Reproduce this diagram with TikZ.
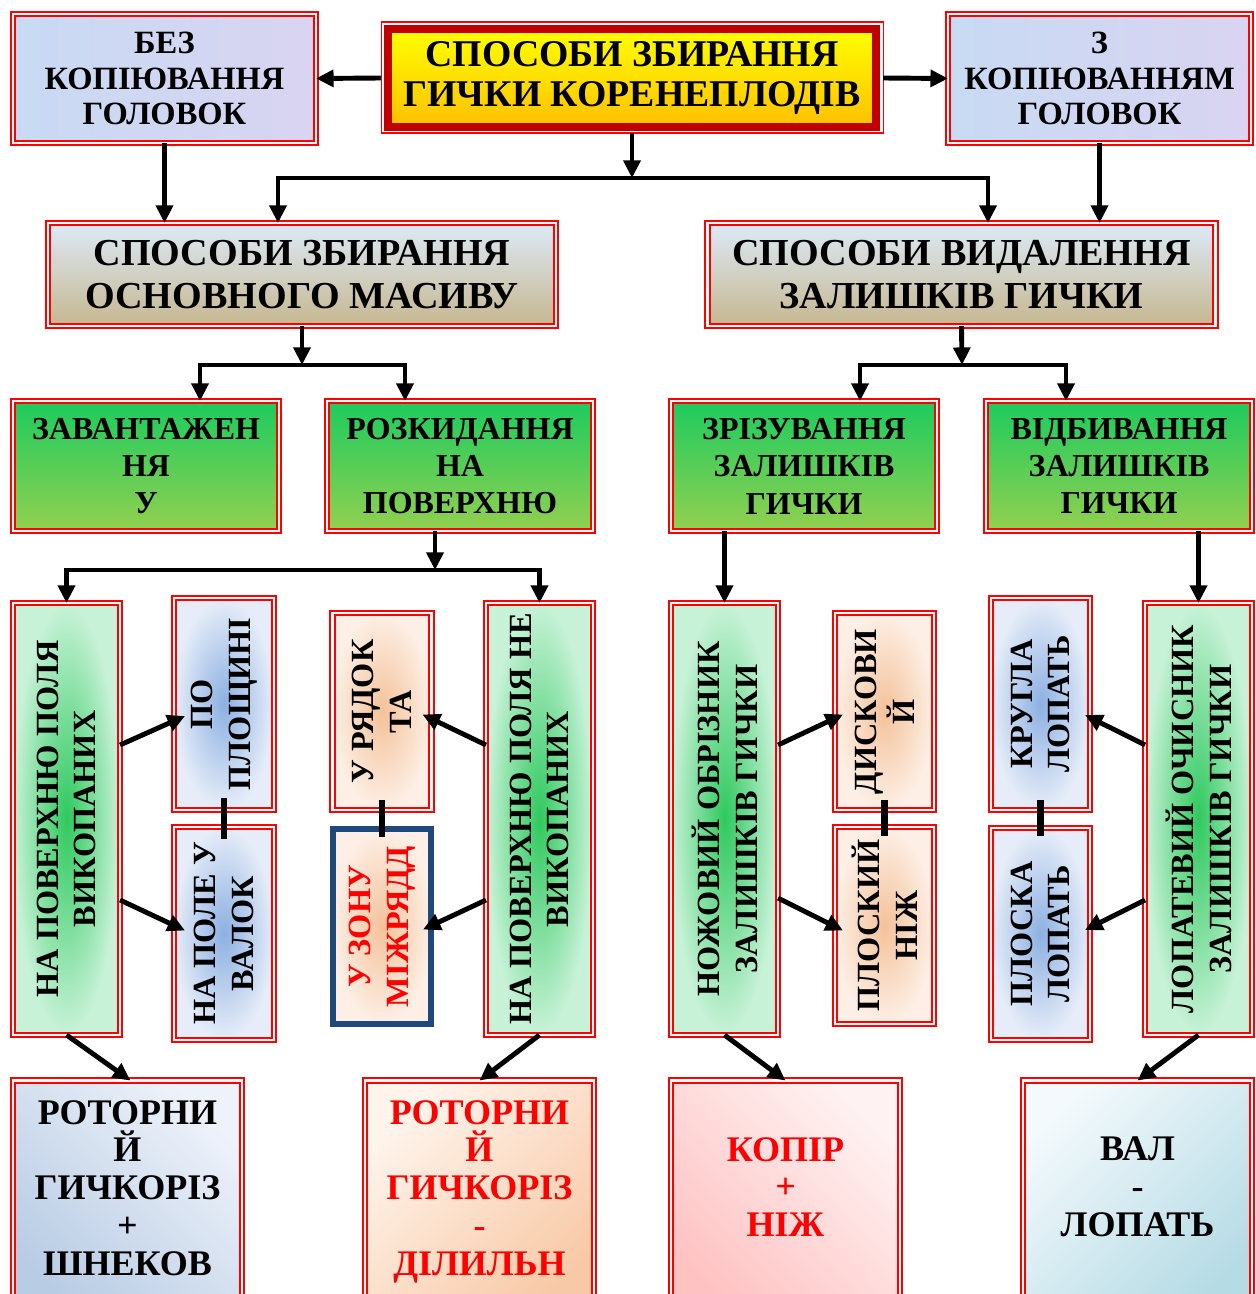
\documentclass[tikz,border=0pt]{standalone}
\usepackage{fontspec}
\setmainfont{Liberation Serif}
\usetikzlibrary{arrows.meta,calc}

\definecolor{darkred}{HTML}{C00000}
\definecolor{amber}{HTML}{FFC000}
\definecolor{lilac1}{HTML}{C8DAF3}
\definecolor{lilac2}{HTML}{D9D4F1}
\definecolor{sky}{HTML}{DCEAF7}
\definecolor{khaki}{HTML}{C6B68F}
\definecolor{grtop}{HTML}{1CCB5E}
\definecolor{grbot}{HTML}{93D050}
\definecolor{mint}{HTML}{C8F2D8}
\definecolor{glow}{HTML}{2FC95E}
\definecolor{bluepale}{HTML}{E6EDF8}
\definecolor{blueglow}{HTML}{8CB0E2}
\definecolor{peachpale}{HTML}{FDEFE5}
\definecolor{peachglow}{HTML}{F4C29A}
\definecolor{zonablue}{HTML}{1F497D}
\definecolor{rotblue}{HTML}{B8CCE4}
\definecolor{rotpale}{HTML}{EEF2FA}
\definecolor{rotpeach}{HTML}{F8C9A6}
\definecolor{rotcream}{HTML}{FFF4EC}
\definecolor{koppink}{HTML}{FFC2C2}
\definecolor{koppale}{HTML}{FFF2F2}
\definecolor{valcyan}{HTML}{B5DBE5}
\definecolor{valpale}{HTML}{F3F9FC}

\tikzset{
  box/.style={draw=red, double=white, line width=1.1pt, double distance=1.3pt,
    inner sep=0pt, outer sep=0pt, align=center, font=\bfseries},
  topbox/.style={box, left color=lilac1, right color=lilac2,
    minimum width=6.06cm, minimum height=2.58cm,
    font=\fontsize{18.5}{20.4}\selectfont\bfseries},
  midbox/.style={box, top color=sky, bottom color=khaki,
    minimum width=10.16cm, minimum height=2.06cm,
    font=\fontsize{21.7}{24.4}\selectfont\bfseries},
  greenbox/.style={box, top color=grtop, bottom color=grbot,
    minimum width=5.32cm, minimum height=2.6cm,
    font=\fontsize{18.2}{21.3}\selectfont\bfseries},
  tallbox/.style={box, inner color=glow, outer color=mint,
    minimum width=2.14cm, minimum height=8.64cm},
  bluebox/.style={box, inner color=blueglow, outer color=bluepale, minimum width=2cm},
  peachbox/.style={box, inner color=peachglow, outer color=peachpale, minimum width=1.98cm},
  lowbox/.style={box, minimum width=4.58cm, minimum height=4.78cm},
  vtext/.style={rotate=90, align=center, inner sep=0pt,
    font=\fontsize{18.4}{21.5}\selectfont\bfseries},
  btext/.style={align=center, inner sep=0pt,
    font=\fontsize{20.5}{21.5}\selectfont\bfseries},
  arr/.style={line width=2.8pt, -{Triangle[length=10pt,width=9.5pt]}},
  link/.style={line width=2.8pt, line cap=rect},
}

\begin{document}
\begin{tikzpicture}[x=0.02cm,y=-0.02cm]
\useasboundingbox (0,0) rectangle (1255,1294);
\clip (0,0) rectangle (1255,1294);

% top row
\node[topbox] (bez) at (164.5,78.5) {БЕЗ\\КОПІЮВАННЯ\\ГОЛОВОК};
\node[draw=darkred, line width=4.5pt, top color=yellow, bottom color=amber,
  minimum width=9.77cm, minimum height=1.96cm, inner sep=0pt, outer sep=0pt,
  align=center, font=\fontsize{21.5}{23.2}\selectfont\bfseries]
  (title) at (632,78) {СПОСОБИ ЗБИРАННЯ\\ГИЧКИ КОРЕНЕПЛОДІВ};
\draw[red, line width=0.6pt] ($(title.north west)+(-6.5,-7)$) rectangle ($(title.south east)+(7,6)$);
\node[topbox] (zk) at (1099.5,78.5) {З\\КОПІЮВАННЯМ\\ГОЛОВОК};

\node[midbox] (zb) at (302,274.5) {СПОСОБИ ЗБИРАННЯ\\ОСНОВНОГО МАСИВУ};
\node[midbox] (vz) at (961.5,274.5) {СПОСОБИ ВИДАЛЕННЯ\\ЗАЛИШКІВ ГИЧКИ};

\node[greenbox] (zav) at (146,466) {ЗАВАНТАЖЕН\\НЯ\\У};
\node[greenbox] (roz) at (460,466) {РОЗКИДАННЯ\\НА\\ПОВЕРХНЮ};
\node[greenbox] (zriz) at (804,466) {ЗРІЗУВАННЯ\\ЗАЛИШКІВ\\ГИЧКИ};
\node[greenbox] (vidb) at (1119,466) {ВІДБИВАННЯ\\ЗАЛИШКІВ\\ГИЧКИ};

% vertical boxes
\node[tallbox] (vk) at (66.5,819) {};
\node[vtext] (vkt) at (vk) {НА ПОВЕРХНЮ ПОЛЯ\\ВИКОПАНИХ};
\node[bluebox, minimum height=4.24cm] (pl) at (224,704) {};
\node[vtext] (plt) at (pl) {ПО\\ПЛОЩИНІ};
\node[bluebox, minimum height=4.26cm] (val) at (224,933.5) {};
\node[vtext] (valt) at (val) {НА ПОЛЕ У\\ВАЛОК};
\node[peachbox, minimum height=3.94cm] (ryad) at (382,711.5) {};
\node[vtext] (ryadt) at (ryad) {У РЯДОК\\ТА};
\node[draw=zonablue, line width=3.4pt, inner color=peachglow, outer color=peachpale,
  minimum width=1.96cm, minimum height=3.9cm, inner sep=0pt, outer sep=0pt] (zona) at (382,926.5) {};
\node[vtext, text=red] (zonat) at (zona) {У ЗОНУ\\МІЖРЯДД};
\node[tallbox] (nevk) at (539.5,819) {};
\node[vtext] (nevkt) at (nevk) {НА ПОВЕРХНЮ ПОЛЯ НЕ\\ВИКОПАНИХ};

\node[tallbox] (nozh) at (724.5,819) {};
\node[vtext] (nozht) at (nozh) {НОЖОВИЙ ОБРІЗНИК\\ЗАЛИШКІВ ГИЧКИ};
\node[peachbox, minimum height=3.94cm] (disk) at (884.5,711.5) {};
\node[vtext] (diskt) at (disk) {ДИСКОВИ\\Й};
\node[peachbox, minimum height=3.94cm] (plnizh) at (884.5,925.5) {};
\node[vtext] (plnizht) at (plnizh) {ПЛОСКИЙ\\НІЖ};
\node[bluebox, minimum width=1.98cm, minimum height=4.24cm] (krug) at (1040.5,704) {};
\node[vtext] (krugt) at (krug) {КРУГЛА\\ЛОПАТЬ};
\node[bluebox, minimum width=1.98cm, minimum height=4.24cm] (plop) at (1040.5,934) {};
\node[vtext] (plopt) at (plop) {ПЛОСКА\\ЛОПАТЬ};
\node[tallbox] (lop) at (1198.5,819) {};
\node[vtext] (lopt) at (lop) {ЛОПАТЕВИЙ ОЧИСНИК\\ЗАЛИШКІВ ГИЧКИ};

% bottom row
\node[lowbox, bottom color=rotblue, top color=rotpale, shading angle=-45] (rot1) at (127.5,1200) {};
\node[btext, anchor=north] (rot1t) at (127.5,1100) {РОТОРНИ\\Й\\ГИЧКОРІЗ\\+\\ШНЕКОВ};
\node[lowbox, bottom color=rotpeach, top color=rotcream, shading angle=45] (rot2) at (479.5,1200) {};
\node[btext, anchor=north, text=red] (rot2t) at (479.5,1100) {РОТОРНИ\\Й\\ГИЧКОРІЗ\\-\\ДІЛИЛЬН};
\node[lowbox, bottom color=koppink, top color=koppale, shading angle=-45] (kop) at (785.5,1200) {};
\node[btext, text=red] (kopt) at (785.5,1187) {КОПІР\\+\\НІЖ};
\node[lowbox, bottom color=valcyan, top color=valpale, shading angle=45] (val2) at (1137.5,1200) {};
\node[btext] (val2t) at (1137.5,1187) {ВАЛ\\-\\ЛОПАТЬ};

% connectors
\coordinate (j1) at (632,178);
\coordinate (j1l) at (278,178);
\coordinate (j1r) at (988,178);
\draw[arr] ($(title.west)+(-7,0)$) -- (bez.east);
\draw[arr] ($(title.east)+(7,0)$) -- (zk.west);
\draw[arr] ($(title.south)+(0,6)$) -- (j1);
\draw[link] (j1l) -- (j1r);
\draw[arr] (j1l) -- (j1l |- zb.north);
\draw[arr] (j1r) -- (j1r |- vz.north);
\draw[arr] (bez.south) -- (bez.south |- zb.north);
\draw[arr] (zk.south) -- (zk.south |- vz.north);

\coordinate (j2) at (302,365);
\coordinate (j2l) at (200,365);
\coordinate (j2r) at (405,365);
\draw[arr] (zb.south) -- (j2);
\draw[link] (j2l) -- (j2r);
\draw[arr] (j2l) -- (j2l |- zav.north);
\draw[arr] (j2r) -- (j2r |- roz.north);

\coordinate (j3) at (962,365);
\coordinate (j3l) at (860,365);
\coordinate (j3r) at (1066,365);
\draw[arr] (vz.south) -- (j3);
\draw[link] (j3l) -- (j3r);
\draw[arr] (j3l) -- (j3l |- zriz.north);
\draw[arr] (j3r) -- (j3r |- vidb.north);

\coordinate (j4) at (435,570);
\coordinate (j4l) at (66.5,570);
\coordinate (j4r) at (539.5,570);
\draw[arr] (roz.south -| j4) -- (j4);
\draw[link] (j4l) -- (j4r);
\draw[arr] (j4l) -- (vk.north);
\draw[arr] (j4r) -- (nevk.north);
\draw[arr] (zriz.south -| nozh.north) -- (nozh.north);
\draw[arr] (vidb.south -| lop.north) -- (lop.north);

\draw[arr] ($(vk.east)+(0,-74)$) -- ($(pl.west)+(11,12)$);
\draw[arr] ($(vk.east)+(0,81)$) -- ($(val.west)+(11,-3)$);
\draw[arr] ($(nevk.west)+(0,-74)$) -- ($(ryad.east)+(-9,3)$);
\draw[arr] ($(nevk.west)+(0,81)$) -- ($(zona.east)+(-8,3)$);
\draw[arr] ($(nozh.east)+(0,-74)$) -- ($(disk.west)+(8,3)$);
\draw[arr] ($(nozh.east)+(0,79)$) -- ($(plnizh.west)+(8,5)$);
\draw[arr] ($(lop.west)+(0,-74)$) -- ($(krug.east)+(-5,11)$);
\draw[arr] ($(lop.west)+(0,81)$) -- ($(plop.east)+(-5,-4)$);

\draw[link, line width=3.6pt, line cap=butt] ($(pl.south)+(0,-12)$) -- ($(val.north)+(0,12)$);
\draw[link, line width=3.6pt, line cap=butt] ($(ryad.south)+(0,-10)$) -- ($(zona.north)+(0,8)$);
\draw[link, line width=3.6pt, line cap=butt] ($(disk.south)+(0,-10)$) -- ($(plnizh.north)+(0,9)$);
\draw[link, line width=3.6pt, line cap=butt] ($(krug.south)+(0,-10)$) -- ($(plop.north)+(0,8)$);

\draw[arr] (vk.south) -- ($(rot1.north)+(3,0)$);
\draw[arr] (nevk.south) -- (rot2.north);
\draw[arr] (nozh.south) -- (kop.north);
\draw[arr] (lop.south) -- (val2.north);
\end{tikzpicture}
\end{document}
